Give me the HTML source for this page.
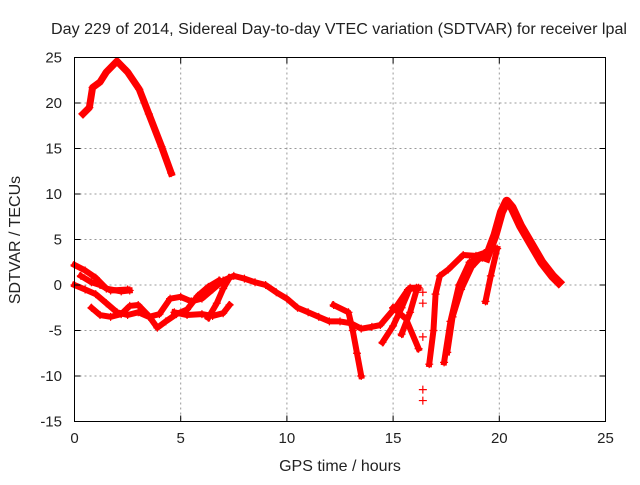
<!DOCTYPE html>
<html><head><meta charset="utf-8"><style>
body{margin:0;background:#fff;}
svg text{font-family:"Liberation Sans",sans-serif;fill:#222;}
</style></head><body>
<svg id="chart" width="640" height="480" viewBox="0 0 640 480" xmlns="http://www.w3.org/2000/svg">
<rect width="640" height="480" fill="#fff"/>
<text x="51" y="34" font-size="15.5" textLength="576" lengthAdjust="spacingAndGlyphs">Day 229 of 2014, Sidereal Day-to-day VTEC variation (SDTVAR) for receiver lpal</text>
<g id="grid"></g>
<g id="series"></g>
<rect x="74.5" y="57.5" width="531" height="364" fill="none" stroke="#000" stroke-width="1"/>
<g id="ticks"></g>
<text x="340" y="471" font-size="16" text-anchor="middle">GPS time / hours</text>
<text x="0" y="0" font-size="16" text-anchor="middle" transform="translate(20,240) rotate(-90)">SDTVAR / TECUs</text>
</svg>
<script>
const xTicks=[0,5,10,15,20,25];
const yTicks=[-15,-10,-5,0,5,10,15,20,25];
const track1=[[0.4,18.8],[0.7,19.5],[0.85,21.7],[1.2,22.3],[1.5,23.4],[2.0,24.6],[2.5,23.4],[3.05,21.5],[3.5,18.8],[4.1,15.2],[4.55,12.3]];
const track2=[[0,2.2],[0.5,1.6],[1,0.8],[1.5,-0.4],[2.2,-0.7],[2.6,-0.6]];
const track3=[[0,0],[0.5,-0.5],[1,-1],[1.5,-2],[2,-3],[2.5,-3.3],[3,-3],[3.5,-3.5],[4,-3.2],[4.5,-1.5],[5,-1.3],[5.5,-1.8],[6,-1.5],[6.5,-0.5],[7,0.5],[7.5,1],[8,0.7],[8.5,0.3],[9,0],[9.5,-0.8],[10,-1.5],[10.5,-2.5],[11,-3],[11.5,-3.5],[12,-4],[12.5,-4],[13,-4.2],[13.5,-4.8],[14,-4.6],[14.4,-4.4],[15.2,-2.2],[15.7,-0.5],[16.1,-0.3]];
const track4=[[0.8,-2.5],[1.2,-3.3],[1.7,-3.5],[2.2,-3.2],[2.6,-2.3],[3.0,-2.2],[3.5,-3.4],[3.9,-4.7],[4.3,-4],[4.8,-3.2],[5.3,-2.7],[5.8,-1.2],[6.3,-0.2],[6.8,0.5]];
const track5=[[4.7,-3],[5.3,-3.3],[6,-3.2],[6.5,-3.4],[7.0,-3.1],[7.3,-2.2]];
const track6=[[6.3,-3.6],[6.7,-2],[7.0,-0.4],[7.3,0.8]];
const track7=[[0.3,1],[0.8,0.3],[1.2,0],[1.7,-0.6],[2.5,-0.5]];
const track8=[[12.2,-2.2],[12.9,-3],[13.1,-5],[13.3,-7.5],[13.5,-10]];
const track9=[[14.5,-6.3],[15,-4.5],[15.4,-2.5],[15.8,-0.3],[16.2,-0.3]];
const track10=[[15.4,-5.4],[15.8,-3],[16.1,-0.6]];
const track11=[[15,-2.5],[15.6,-3.7],[16.2,-7]];
const track12=[[16.7,-8.7],[16.9,-5],[17.0,-1],[17.2,1],[17.6,1.7],[18.3,3.3],[18.9,3.2],[19.4,3.6]];
const track13=[[17.4,-8.5],[17.7,-4],[18.1,0],[18.6,2.5],[19.2,3],[19.6,4]];
const track14=[[17.55,-7.4],[17.8,-3.5],[18.2,-0.5],[18.7,2],[19.3,3.5]];
const track15=[[19.35,-1.8],[19.6,1],[19.9,4]];
const track16=[[19.4,3],[19.8,5.5],[20.1,8],[20.35,9.2],[20.6,8.5],[21,6.5],[21.5,4.5],[22,2.5],[22.5,1],[22.8,0.3]];
const outliers=[[16.4,-0.8],[16.4,-2],[16.4,-5.7],[16.4,-11.5],[16.4,-12.7]];
const tracks=[track1,track2,track3,track4,track5,track6,track7,track8,track9,track10,track11,track12,track13,track14,track15,track16];

const X0=74.5,X1=605.5,Y0=421.5,Y1=57.5,xmin=0,xmax=25,ymin=-15,ymax=25;
const sx=v=>X0+(v-xmin)/(xmax-xmin)*(X1-X0);
const sy=v=>Y0-(v-ymin)/(ymax-ymin)*(Y0-Y1);
const NS='http://www.w3.org/2000/svg';
function mk(tag,attrs,parent){const e=document.createElementNS(NS,tag);for(const k in attrs)e.setAttribute(k,attrs[k]);parent.appendChild(e);return e;}
const grid=document.getElementById('grid'),ticks=document.getElementById('ticks'),ser=document.getElementById('series');
xTicks.forEach(t=>{
  const x=sx(t);
  if(t>xmin&&t<xmax){const g=mk('line',{x1:x,x2:x,y1:Y1,y2:Y0,stroke:'#999','stroke-dasharray':'2,3'},grid);
  
  }
  mk('line',{x1:x,x2:x,y1:Y0,y2:Y0-6,stroke:'#000'},ticks);
  mk('line',{x1:x,x2:x,y1:Y1,y2:Y1+6,stroke:'#000'},ticks);
  const l=mk('text',{x:x,y:443,'font-size':15,'text-anchor':'middle'},ticks);l.textContent=t;
  
  
});
yTicks.forEach(t=>{
  const y=sy(t);
  if(t>ymin&&t<ymax){const g=mk('line',{x1:X0,x2:X1,y1:y,y2:y,stroke:'#999','stroke-dasharray':'2,3'},grid);
  
  }
  mk('line',{x1:X0,x2:X0+6,y1:y,y2:y,stroke:'#000'},ticks);
  mk('line',{x1:X1,x2:X1-6,y1:y,y2:y,stroke:'#000'},ticks);
  const l=mk('text',{x:62,y:y+5,'font-size':15,'text-anchor':'end'},ticks);l.textContent=t;
  
  
});
function plus(x,y,parent){mk('path',{d:`M${x-4},${y}h8M${x},${y-4}v8`,stroke:'#f00','stroke-width':1.2,fill:'none'},parent);}
tracks.forEach((tr,i)=>{
  const g=mk('g',{},ser);
  
  
  const w=(tr===track16)?9:(tr===track1?7:6);
  mk('polyline',{points:tr.map(p=>sx(p[0])+','+sy(p[1])).join(' '),fill:'none',stroke:'#f00','stroke-width':w,'stroke-linejoin':'round','stroke-linecap':'square'},g);
  tr.forEach(p=>plus(sx(p[0]),sy(p[1]),g));
});
const og=mk('g',{},ser);


outliers.forEach(p=>plus(sx(p[0]),sy(p[1]),og));
</script>
</body></html>
